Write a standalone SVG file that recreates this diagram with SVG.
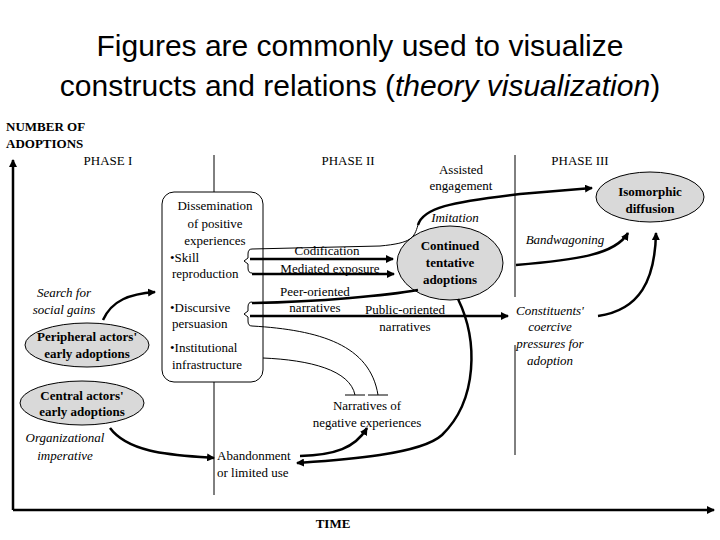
<svg xmlns="http://www.w3.org/2000/svg" width="720" height="540" viewBox="0 0 720 540">
<defs>
<marker id="ah" markerWidth="8" markerHeight="8" refX="7" refY="4" orient="auto" markerUnits="userSpaceOnUse"><path d="M0,0 L8,4 L0,8 Z" fill="#000"/></marker>
<style>
text{font-family:"Liberation Serif",serif;font-size:13px;fill:#000}
.t{font-family:"Liberation Sans",Arial,sans-serif;font-size:30px}
.b{font-weight:bold}
.i{font-style:italic}
.m{text-anchor:middle}
.thick{stroke:#000;stroke-width:2.5;fill:none}
.thin{stroke:#000;stroke-width:1;fill:none}
.ell{fill:#d9d9d9;stroke:#000;stroke-width:1}
</style>
</defs>
<rect width="720" height="540" fill="#fff"/>
<text class="t m" x="360" y="56">Figures are commonly used to visualize</text>
<text class="t m" x="360" y="96">constructs and relations (<tspan font-style="italic">theory visualization</tspan>)</text>
<g id="axes">
<path class="thick" d="M13,510 L13,160" marker-end="url(#ah)"/>
<path class="thick" d="M13,510 L714,510" marker-end="url(#ah)"/>
<path class="thin" stroke-width="1.5" d="M214,155 L214,192 M214,382 L214,495 M515,155 L515,297 M515,345 L515,455"/>
<text class="b" x="6" y="131">NUMBER OF</text>
<text class="b" x="6" y="148">ADOPTIONS</text>
<text class="m" x="108" y="165">PHASE I</text>
<text class="m" x="348" y="165">PHASE II</text>
<text class="m" x="580" y="165">PHASE III</text>
<text class="b m" x="333" y="528">TIME</text>
</g>
<g id="box">
<rect x="162" y="192" width="101" height="190" rx="12" fill="#fff" stroke="#000" stroke-width="1"/>
<text class="m" x="215" y="210">Dissemination</text>
<text class="m" x="215" y="228">of positive</text>
<text class="m" x="215" y="245">experiences</text>
<text x="170" y="262">•Skill</text>
<text x="172" y="278">reproduction</text>
<text x="170" y="312">•Discursive</text>
<text x="172" y="328">persuasion</text>
<text x="170" y="352">•Institutional</text>
<text x="172" y="369">infrastructure</text>
</g>
<g id="peripheral"><ellipse class="ell" cx="87" cy="345" rx="62" ry="22"/>
<text class="b m" x="87" y="341">Peripheral actors'</text><text class="b m" x="87" y="358">early adoptions</text></g>
<g id="central"><ellipse class="ell" cx="82" cy="403" rx="62" ry="22"/>
<text class="b m" x="82" y="400">Central actors'</text><text class="b m" x="82" y="416">early adoptions</text></g>
<g id="continued"><ellipse class="ell" cx="450" cy="263" rx="53" ry="37"/>
<text class="b m" x="450" y="250">Continued</text><text class="b m" x="450" y="267">tentative</text><text class="b m" x="450" y="284">adoptions</text></g>
<g id="isomorphic"><ellipse class="ell" cx="650" cy="197" rx="54" ry="25"/>
<text class="b m" x="650" y="196">Isomorphic</text><text class="b m" x="650" y="213">diffusion</text></g>
<g id="labels">
<text class="m" x="461" y="174">Assisted</text><text class="m" x="461" y="190">engagement</text>
<text class="i m" x="455" y="222">Imitation</text>
<text class="i m" x="565" y="244">Bandwagoning</text>
<text class="m" x="327" y="255">Codification</text>
<text class="m" x="330" y="273">Mediated exposure</text>
<text class="m" x="315" y="296">Peer-oriented</text><text class="m" x="315" y="312">narratives</text>
<text class="m" x="405" y="314">Public-oriented</text><text class="m" x="405" y="331">narratives</text>
<text class="i m" x="550" y="315">Constituents'</text><text class="i m" x="550" y="331">coercive</text><text class="i m" x="550" y="348">pressures for</text><text class="i m" x="550" y="365">adoption</text>
<text class="i m" x="64" y="297">Search for</text><text class="i m" x="64" y="314">social gains</text>
<text class="i m" x="65" y="442">Organizational</text><text class="i m" x="65" y="460">imperative</text>
<text class="m" x="367" y="410">Narratives of</text><text class="m" x="367" y="427">negative experiences</text>
<text x="217" y="460">Abandonment</text><text x="217" y="477">or limited use</text>
</g>
<g id="connectors">
<path class="thin" stroke-width="1.5" d="M252,249 Q248,249 248,254 L248,258 L244,261 L248,264 L248,268 Q248,273 252,273"/>
<path class="thin" stroke-width="1.5" d="M252,302 Q248,302 248,307 L248,311 L244,314 L248,317 L248,321 Q248,326 252,326"/>
<path class="thin" d="M252,249 L380,246 C412,243 414,238 418,225"/>
<path class="thick" d="M418,225 C423,208 450,202 520,194 L592,188" marker-end="url(#ah)"/>
<path class="thick" d="M250,259 L393,259" marker-end="url(#ah)"/>
<path class="thick" d="M252,274 L394,274" marker-end="url(#ah)"/>
<path class="thick" d="M252,303 C320,302 390,295 418,290"/>
<path class="thick" d="M250,316 L508,316" marker-end="url(#ah)"/>
<path class="thin" d="M252,326 C320,330 370,345 378,395 M368,395 L388,395"/>
<path class="thin" d="M263,358 C310,360 350,370 355,395 M345,395 L365,395"/>
<path class="thick" d="M458,299 C478,340 478,400 442,435 C420,455 340,460 297,463" marker-end="url(#ah)"/>
<path class="thick" d="M300,456 C335,455 355,448 367,428" marker-end="url(#ah)"/>
<path class="thick" d="M110,428 C130,455 180,455 214,458" marker-end="url(#ah)"/>
<path class="thick" d="M103,320 C112,300 130,294 155,292" marker-end="url(#ah)"/>
<path class="thick" d="M516,265 C575,260 615,255 628,233" marker-end="url(#ah)"/>
<path class="thick" d="M598,316 C640,310 655,280 656,233" marker-end="url(#ah)"/>
</g>
</svg>
